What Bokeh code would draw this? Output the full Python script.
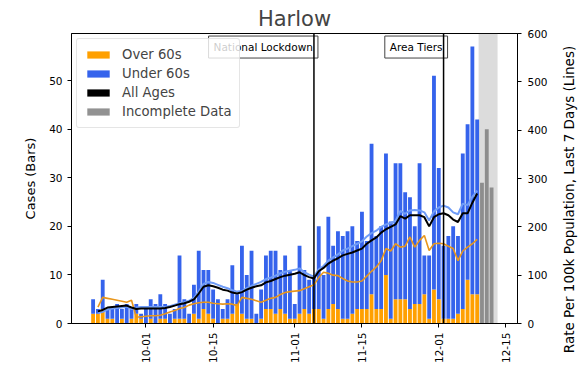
import math
import pandas as pd
from bokeh.plotting import figure
from bokeh.models import (ColumnDataSource, Range1d, LinearAxis, Span, Label, BoxAnnotation,
                          Legend, LegendItem, FixedTicker, DatetimeTickFormatter,
                          SingleIntervalTicker)
from bokeh.embed import file_html
from bokeh.resources import INLINE

# ---------------- data ----------------
bar_start = "2020-09-20"
total_cases = [5, 3, 9, 3, 3, 4, 3, 4, 3, 4, 2,
               3, 5, 4, 6, 4, 2, 3, 14, 5, 2,
               8, 15, 11, 11, 7, 5, 3, 5, 12, 6,
               16, 10, 15, 2, 7, 14, 15, 15, 11, 14, 11,
               4, 16, 11, 9, 10, 20, 10, 22, 16, 19,
               18, 19, 20, 17, 23, 17, 37, 18, 20, 35,
               21, 33, 33, 27, 26, 20, 33, 14, 14, 51,
               32, 16, 18, 20, 18, 35, 41, 57, 42]
over60_cases = [2, 2, 3, 1, 1, 0, 1, 0, 1, 2, 1,
                0, 1, 0, 1, 1, 0, 1, 1, 1, 0,
                2, 1, 3, 2, 1, 0, 1, 1, 2, 4,
                2, 1, 1, 0, 1, 3, 3, 2, 3, 2, 1,
                1, 2, 3, 2, 3, 3, 1, 3, 4, 3,
                1, 1, 2, 3, 3, 3, 6, 3, 3, 10,
                1, 5, 5, 5, 3, 4, 4, 6, 1, 7,
                5, 1, 1, 1, 2, 3, 9, 6, 6]

incomplete_start = "2020-12-10"
incomplete_cases = [29, 40, 28]

line_start = "2020-09-21"
rate_all = [25, 28, 33, 34, 35, 36, 37, 33, 30, 31,
            31, 31, 31, 31, 32, 34, 37, 40, 42, 45,
            50, 62, 76, 79, 77, 74, 70, 68, 64, 62,
            65, 70, 74, 77, 79, 85, 88, 92, 96, 99, 101,
            103, 106, 100, 96, 93, 108, 115, 124, 130, 135,
            141, 144, 147, 151, 155, 165, 172, 178, 188, 195,
            200, 205, 222, 217, 224, 224, 224, 220, 201, 220,
            226, 228, 224, 215, 210, 228, 228, 250, 269]
rate_under60 = [22, 24, 29, 31, 32, 33, 35, 30, 33, 34,
                34, 34, 34, 34, 34, 36, 39, 42, 44, 47,
                53, 66, 82, 86, 84, 80, 76, 73, 69, 66,
                67, 73, 78, 82, 86, 92, 95, 99, 104, 107, 109,
                111, 114, 106, 101, 97, 112, 119, 130, 137, 143,
                151, 155, 160, 165, 170, 180, 187, 192, 200, 205,
                208, 212, 233, 227, 234, 235, 234, 230, 213, 232,
                240, 244, 240, 230, 226, 248, 245, 262, 275]
rate_over60 = [34, 54, 52, 50, 48, 46, 44, 48, 13, 14,
               15, 16, 16, 17, 20, 24, 27, 31, 33, 38,
               41, 43, 44, 44, 42, 41, 40, 41, 40, 37,
               54, 52, 50, 47, 44, 48, 52, 54, 60, 64, 66,
               67, 68, 72, 76, 80, 95, 106, 104, 100, 99,
               93, 88, 86, 86, 88, 98, 108, 117, 130, 155,
               150, 165, 158, 160, 179, 158, 172, 182, 151, 165,
               166, 165, 160, 155, 130, 150, 158, 165, 174]

event_dates = ["2020-11-05", "2020-12-02"]
event_labels = ["National Lockdown", "Area Tiers"]
tick_dates = ["2020-10-01", "2020-10-15", "2020-11-01", "2020-11-15",
              "2020-12-01", "2020-12-15"]
case_ticks_step = 10
rate_ticks_step = 100
left_label = "Cases (Bars)"
right_label = "Rate Per 100k Population, Last 7 Days (Lines)"

# ---------------- style ----------------
FONT = "DejaVu Sans"
DAY_MS = 86400000.0
ORANGE = "#ffa000"
BLUE = "#3563ec"
LIGHT_BLUE = "#6f9cf7"
ORANGE_LINE = "#e8961c"
GREY = "#7f7f7f"


def ms(d):
    return pd.Timestamp(d).value / 1e6


bar_dates = pd.date_range(bar_start, periods=len(total_cases), freq="D")
bars = ColumnDataSource(dict(date=bar_dates, over=over60_cases, total=total_cases))
inc_dates = pd.date_range(incomplete_start, periods=len(incomplete_cases), freq="D")
inc = ColumnDataSource(dict(date=inc_dates, total=incomplete_cases))
line_dates = pd.date_range(line_start, periods=len(rate_all), freq="D")
lines = ColumnDataSource(dict(date=line_dates, all=rate_all, u60=rate_under60, o60=rate_over60))

x_start = ms(bar_start) - 4.5 * DAY_MS
x_end = ms(inc_dates[-1]) + 5.4 * DAY_MS

p = figure(width=583, height=374, x_axis_type="datetime",
           x_range=Range1d(x_start, x_end), y_range=Range1d(0, 59.7),
           output_backend="svg", toolbar_location=None,
           min_border_left=71, min_border_right=66, min_border_top=33, min_border_bottom=51)
p.extra_y_ranges = {"rate": Range1d(0, 600)}

# shaded incomplete region
p.add_layout(BoxAnnotation(left=ms(bar_dates[-1]) + 0.3 * DAY_MS,
                           right=ms(inc_dates[-1]) + 1.25 * DAY_MS,
                           fill_color="grey", fill_alpha=0.28, line_color=None,
                           level="underlay"))

w = 0.8 * DAY_MS
r_over = p.vbar(x="date", width=w, bottom=0, top="over", source=bars,
                fill_color=ORANGE, line_color=None)
r_under = p.vbar(x="date", width=w, bottom="over", top="total", source=bars,
                 fill_color=BLUE, line_color=None)
r_inc = p.vbar(x="date", width=w, bottom=0, top="total", source=inc,
               fill_color=GREY, fill_alpha=0.85, line_color=None)
# legend-only patch for the "All Ages" line (zero height, invisible in plot)
r_all_patch = p.vbar(x=[ms(line_start)], top=[0], bottom=[0], width=w,
                     fill_color="black", line_color=None)

p.line(x="date", y="o60", source=lines, y_range_name="rate", line_color=ORANGE_LINE, line_width=1.6)
p.line(x="date", y="u60", source=lines, y_range_name="rate", line_color=LIGHT_BLUE, line_width=2)
p.line(x="date", y="all", source=lines, y_range_name="rate", line_color="black", line_width=2)

# event markers
for d, txt in zip(event_dates, event_labels):
    p.add_layout(Label(x=ms(d), y=572, y_range_name="rate", text=txt, x_offset=4,
                       text_align="right", text_baseline="middle",
                       text_font=FONT, text_font_size="10.5px", text_color="black",
                       background_fill_color="white", border_line_color="#444444",
                       border_line_width=1, padding=5))
    p.add_layout(Span(location=ms(d), dimension="height", line_color="black", line_width=1.5))

# axes
p.xaxis.ticker = FixedTicker(ticks=[ms(t) for t in tick_dates])
fmt = "%m-%d"
p.xaxis.formatter = DatetimeTickFormatter(days=fmt, months=fmt, years=fmt, hours=fmt,
                                          hourmin=fmt, minutes=fmt, minsec=fmt, seconds=fmt,
                                          milliseconds=fmt, microseconds=fmt)
p.xaxis.major_label_orientation = math.pi / 2
p.yaxis.ticker = SingleIntervalTicker(interval=case_ticks_step)
p.yaxis.axis_label = left_label

right = LinearAxis(y_range_name="rate", ticker=SingleIntervalTicker(interval=rate_ticks_step))
p.add_layout(right, "right")

for ax in [p.xaxis[0], p.yaxis[0], right]:
    ax.major_tick_in = 0
    ax.major_tick_out = 4
    ax.minor_tick_line_color = None
    ax.axis_line_color = "black"
    ax.major_tick_line_color = "black"
    ax.major_label_text_font = FONT
    ax.major_label_text_font_size = "10.5px"
    ax.major_label_text_color = "black"
    ax.major_label_standoff = 5
    ax.axis_label_text_font = FONT
    ax.axis_label_text_font_size = "13px"
    ax.axis_label_text_font_style = "normal"
    ax.axis_label_text_color = "black"
    ax.axis_label_standoff = 8
right.major_label_standoff = 6

# right-hand axis title, reading bottom-to-top like the reference (placed in the right panel)
p.add_layout(Label(x=18, y=124, x_units="screen", y_units="screen", text=right_label,
                   angle=math.pi / 2, text_align="center", text_baseline="middle",
                   text_font=FONT, text_font_size="13.5px", text_color="black"), "right")

p.xgrid.grid_line_color = None
p.ygrid.grid_line_color = None
p.outline_line_color = "black"
p.outline_line_alpha = 1
p.background_fill_color = "white"
p.border_fill_color = "white"

p.title.text = "Harlow"
p.title.align = "center"
p.title.text_font = FONT
p.title.text_font_size = "21px"
p.title.text_font_style = "normal"
p.title.standoff = 6

legend = Legend(items=[LegendItem(label="Over 60s", renderers=[r_over]),
                       LegendItem(label="Under 60s", renderers=[r_under]),
                       LegendItem(label="All Ages", renderers=[r_all_patch]),
                       LegendItem(label="Incomplete Data", renderers=[r_inc])],
                location="top_left", margin=5, padding=7, spacing=2,
                glyph_width=28, glyph_height=9, label_height=17, label_standoff=10,
                label_text_font=FONT, label_text_font_size="13.2px",
                border_line_color="#cccccc", border_line_width=1, border_radius=3,
                background_fill_color="white", background_fill_alpha=0.8)
p.add_layout(legend)

open("out.html", "w").write(file_html(p, INLINE))
